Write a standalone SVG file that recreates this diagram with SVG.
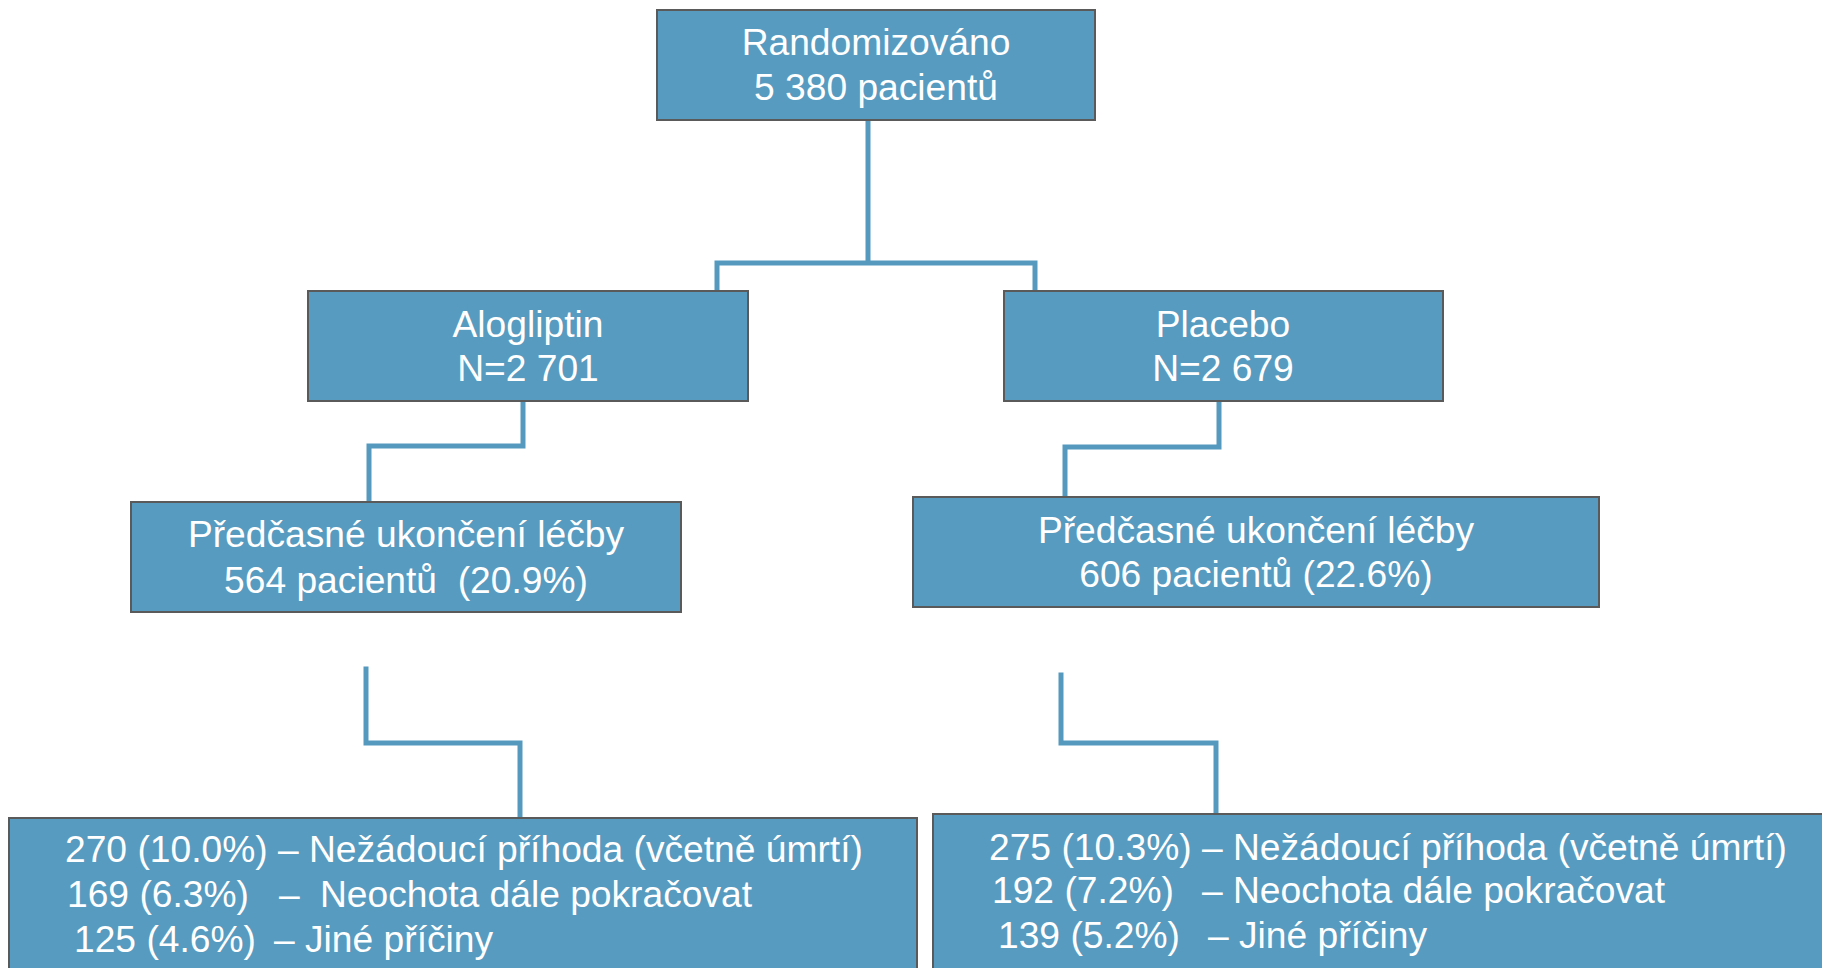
<svg xmlns="http://www.w3.org/2000/svg" width="1822" height="968" viewBox="0 0 1822 968">
<style>
.box{fill:#579BC0;stroke:#5a5a5a;stroke-width:2}
.t{font-family:"Liberation Sans",Arial,sans-serif;font-size:37.2px;fill:#ffffff}
.c{text-anchor:middle}
.con{fill:none;stroke:#5599BF;stroke-width:5;stroke-linecap:square}
</style>
<rect width="1822" height="968" fill="#ffffff"/>
<g id="connectors">
<path class="con" d="M868 121 V263 M717 263 H1035 M717 263 V290 M1035 263 V290"/>
<path class="con" d="M523 402 V446 H369 V501"/>
<path class="con" d="M1219 402 V447 H1065 V496"/>
<path class="con" d="M366 669 V743 H520 V816"/>
<path class="con" d="M1061 675 V743 H1216 V812"/>
</g>
<g id="randomizovano">
<rect class="box" x="657" y="10" width="438" height="110"/>
<text class="t c" x="876" y="55">Randomizováno</text>
<text class="t c" x="876" y="100">5 380 pacientů</text>
</g>
<g id="alogliptin">
<rect class="box" x="308" y="291" width="440" height="110"/>
<text class="t c" x="528" y="337">Alogliptin</text>
<text class="t c" x="528" y="381">N=2 701</text>
</g>
<g id="placebo">
<rect class="box" x="1004" y="291" width="439" height="110"/>
<text class="t c" x="1223" y="337">Placebo</text>
<text class="t c" x="1223" y="381">N=2 679</text>
</g>
<g id="ukonceni-alogliptin">
<rect class="box" x="131" y="502" width="550" height="110"/>
<text class="t c" x="406" y="547">Předčasné ukončení léčby</text>
<text class="t c" x="406" y="593" xml:space="preserve">564 pacientů  (20.9%)</text>
</g>
<g id="ukonceni-placebo">
<rect class="box" x="913" y="497" width="686" height="110"/>
<text class="t c" x="1256" y="543">Předčasné ukončení léčby</text>
<text class="t c" x="1256" y="587">606 pacientů (22.6%)</text>
</g>
<g id="duvody-alogliptin">
<rect class="box" x="9" y="818" width="908" height="160"/>
<text class="t" x="65" y="862">270 (10.0%) – Nežádoucí příhoda (včetně úmrtí)</text>
<text class="t" y="907"><tspan x="67">169 (6.3%)</tspan> <tspan x="279">–</tspan> <tspan x="320">Neochota dále pokračovat</tspan></text>
<text class="t" y="952"><tspan x="74">125 (4.6%)</tspan> <tspan x="274">– Jiné příčiny</tspan></text>
</g>
<g id="duvody-placebo">
<rect class="box" x="933" y="814" width="900" height="164"/>
<text class="t" x="989" y="860">275 (10.3%) – Nežádoucí příhoda (včetně úmrtí)</text>
<text class="t" y="903"><tspan x="992">192 (7.2%)</tspan> <tspan x="1202">– Neochota dále pokračovat</tspan></text>
<text class="t" y="948"><tspan x="998">139 (5.2%)</tspan> <tspan x="1208">– Jiné příčiny</tspan></text>
</g>
</svg>
